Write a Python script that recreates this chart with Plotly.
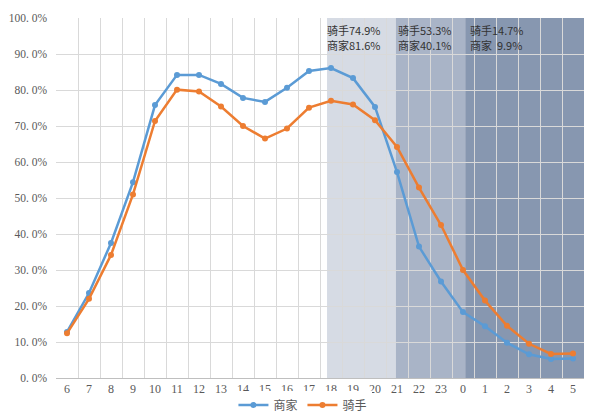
import plotly.graph_objects as go

hours = ["6", "7", "8", "9", "10", "11", "12", "13", "14", "15", "16", "17",
         "18", "19", "20", "21", "22", "23", "0", "1", "2", "3", "4", "5"]
merchant = [12.8, 23.6, 37.5, 54.4, 75.8, 84.2, 84.2, 81.7, 77.8, 76.7, 80.6, 85.3,
            86.1, 83.3, 75.3, 57.2, 36.5, 26.8, 18.3, 14.4, 9.8, 6.6, 5.3, 5.4]
rider = [12.4, 22.0, 34.2, 51.0, 71.4, 80.1, 79.6, 75.4, 70.0, 66.5, 69.3, 75.1,
         77.0, 76.0, 71.6, 64.2, 52.9, 42.5, 30.0, 21.5, 14.5, 9.5, 6.7, 6.8]
y_ticks = [0, 10, 20, 30, 40, 50, 60, 70, 80, 90, 100]
y_tick_labels = ["0. 0%", "10. 0%", "20. 0%", "30. 0%", "40. 0%", "50. 0%",
                 "60. 0%", "70. 0%", "80. 0%", "90. 0%", "100. 0%"]
period_rider = ["骑手74.9%", "骑手53.3%", "骑手14.7%"]
period_merchant = ["商家81.6%", "商家40.1%", "商家  9.9%"]

fig = go.Figure()
fig.add_trace(go.Scatter(x=hours, y=merchant, name="商家", mode="lines+markers",
                         line=dict(color="#5B9BD5", width=2.5),
                         marker=dict(size=6, color="#5B9BD5")))
fig.add_trace(go.Scatter(x=hours, y=rider, name="骑手", mode="lines+markers",
                         line=dict(color="#ED7D31", width=2.5),
                         marker=dict(size=6, color="#ED7D31")))

# shaded periods
fig.add_shape(type="rect", xref="x", yref="paper", x0=11.82, x1=14.95, y0=0, y1=1,
              fillcolor="#D6DBE4", line_width=0, layer="between")
fig.add_shape(type="rect", xref="x", yref="paper", x0=14.95, x1=18.1, y0=0, y1=1,
              fillcolor="#A9B4C7", line_width=0, layer="below")
fig.add_shape(type="rect", xref="x", yref="paper", x0=18.1, x1=23.5, y0=0, y1=1,
              fillcolor="#8797B0", line_width=0, layer="below")

for xp, t1, t2 in zip([11.78, 14.98, 18.28], period_rider, period_merchant):
    fig.add_annotation(x=xp, y=1, xref="x", yref="paper", text=t1, showarrow=False,
                       xanchor="left", yanchor="middle", align="left", yshift=-12,
                       borderpad=0,
                       font=dict(family="Noto Sans CJK SC", size=11, color="#333333"))
    fig.add_annotation(x=xp, y=1, xref="x", yref="paper", text=t2, showarrow=False,
                       xanchor="left", yanchor="middle", align="left", yshift=-27,
                       borderpad=0,
                       font=dict(family="Noto Sans CJK SC", size=11, color="#333333"))

fig.update_layout(
    width=594, height=417,
    margin=dict(l=56, r=10, t=18, b=39, autoexpand=False),
    plot_bgcolor="white", paper_bgcolor="white",
    showlegend=True,
    legend=dict(orientation="h", x=0.51, xanchor="center", xref="container",
                y=12 / 417, yanchor="middle", yref="container",
                font=dict(family="Liberation Serif, Noto Sans CJK SC", size=12, color="#595959"),
                itemwidth=30, tracegroupgap=0),
    font=dict(family="Liberation Serif, Noto Sans CJK SC", size=12, color="#595959"),
)
fig.update_xaxes(type="category", tickson="boundaries", showgrid=True, gridcolor="#D9D9D9",
                 gridwidth=1, ticks="", range=[-0.5, 23.5], showline=True,
                 linecolor="#BFBFBF", linewidth=1, zeroline=False, automargin=False,
                 tickfont=dict(family="Liberation Serif", size=12, color="#595959"))
fig.update_yaxes(range=[0, 100], tickvals=y_ticks, ticktext=y_tick_labels, showgrid=True,
                 gridcolor="#D9D9D9", gridwidth=1, zeroline=False, ticks="",
                 showline=False, ticklabelstandoff=8, automargin=False,
                 tickfont=dict(family="Liberation Serif", size=11.5, color="#595959"))

fig.write_html("out.html", config={"displayModeBar": False},
               post_script="document.body.style.margin='0px';document.body.style.overflow='hidden';")
